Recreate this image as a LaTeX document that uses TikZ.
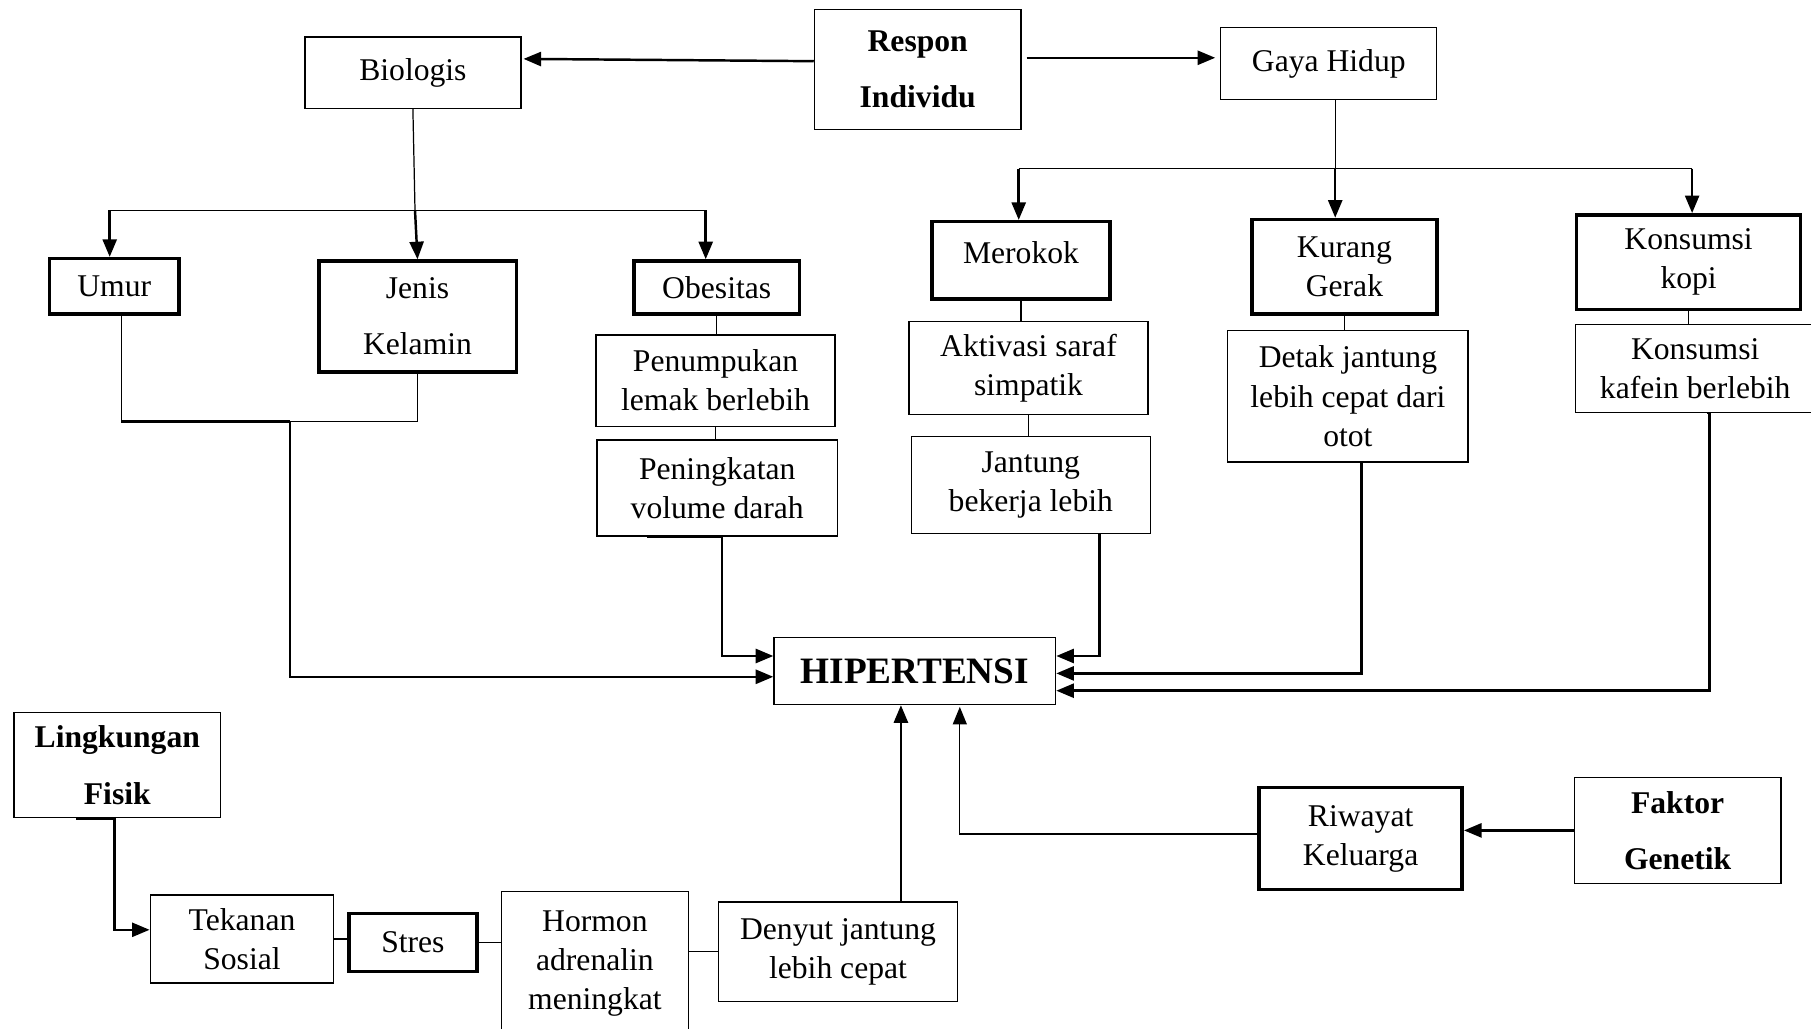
\documentclass[tikz,border=0pt]{standalone}
\usepackage{fontspec}
\setmainfont{Liberation Serif}
\usetikzlibrary{arrows.meta}

\tikzset{
  box/.style={draw, line width=0.35pt, inner sep=1pt, align=center, font=\fontsize{9}{11.1}\selectfont},
  heavybox/.style={box, line width=1pt},
  spaced/.style={font=\fontsize{9}{16}\selectfont},
  tallbox/.style={box, font=\fontsize{9}{16}\selectfont\bfseries},
  wh/.style 2 args={minimum width=#1cm, minimum height=#2cm},
  link/.style={line width=0.35pt},
  feed/.style={line width=0.7pt},
  arrow/.style={feed, -{Triangle[length=5pt,width=4pt]}},
  thinarrow/.style={link, -{Triangle[length=5pt,width=4pt]}},
}

\begin{document}
\begin{tikzpicture}
\useasboundingbox (0,0) rectangle (18.11,-10.29);

% top row
\node[tallbox, wh={2.067}{1.201}] (respon) at (9.177,-0.693) {Respon\\Individu};
\node[box, wh={2.160}{0.716}] (biologis) at (4.129,-0.728) {Biologis};
\node[box, wh={2.160}{0.716}] (gaya) at (13.288,-0.635) {Gaya Hidup};

% biologis side
\node[heavybox, wh={1.293}{0.555}] (umur) at (1.143,-2.864) {Umur};
\node[heavybox, spaced, wh={1.975}{1.109}] (jenis) at (4.175,-3.165) {Jenis\\Kelamin};
\node[heavybox, wh={1.652}{0.532}] (obes) at (7.167,-2.876) {Obesitas};
\node[box, wh={2.391}{0.912}] (penump) at (7.155,-3.806) {Penumpukan\\lemak berlebih};
\node[box, wh={2.403}{0.959}] (penin) at (7.172,-4.880) {Peningkatan\\volume darah};

% gaya hidup side
\node[heavybox, text depth=0.16cm, wh={1.779}{0.774}] (rokok) at (10.210,-2.604) {Merokok};
\node[box, wh={2.391}{0.935}] (saraf) at (10.285,-3.679) {Aktivasi saraf\\simpatik};
\node[box, wh={2.391}{0.970}] (jantung) at (10.308,-4.851) {Jantung\\bekerja lebih};
\node[heavybox, wh={1.848}{0.947}] (gerak) at (13.444,-2.668) {Kurang\\Gerak};
\node[box, wh={2.402}{1.317}] (detak) at (13.479,-3.962) {Detak jantung\\lebih cepat dari\\otot};
\node[heavybox, wh={2.240}{0.947}] (kopi) at (16.886,-2.622) {Konsumsi\\kopi};
\node[box, wh={2.396}{0.877}] (kafein) at (16.952,-3.685) {Konsumsi\\kafein berlebih};

% centre
\node[box, font=\fontsize{10.6}{12}\selectfont\bfseries, wh={2.818}{0.670}] (hip) at (9.148,-6.711) {HIPERTENSI};

% lingkungan side
\node[tallbox, wh={2.067}{1.051}] (fisik) at (1.173,-7.652) {Lingkungan\\Fisik};
\node[box, wh={1.836}{0.878}] (sosial) at (2.420,-9.390) {Tekanan\\Sosial};
\node[heavybox, wh={1.282}{0.578}] (stres) at (4.129,-9.425) {Stres};
\node[box, wh={1.871}{1.433}] (adren) at (5.949,-9.634) {Hormon\\adrenalin\\meningkat};
\node[box, wh={2.391}{0.993}] (denyut) at (8.380,-9.517) {Denyut jantung\\lebih cepat};

% genetik side
\node[heavybox, wh={2.032}{1.017}] (riwayat) at (13.606,-8.385) {Riwayat\\Keluarga};
\node[tallbox, wh={2.067}{1.063}] (genetik) at (16.776,-8.304) {Faktor\\Genetik};

\coordinate (bl) at (1.097,-2.102);
\coordinate (br) at (7.057,-2.102);
\coordinate (bm) at (4.150,-2.102);
\coordinate (gl) at (10.187,-1.686);
\coordinate (gr) at (16.921,-1.686);
\coordinate (gm) at (13.352,-1.686);
\coordinate (uj) at (2.899,-4.216);
\coordinate (ul) at (1.213,-4.216);
\coordinate (up) at (9.009,-9.021);
\coordinate (rw) at (9.598,-7.069);

% respon
\draw[arrow] ([yshift=0.081cm]respon.west) -- ([xshift=0.02cm,yshift=0.139cm]biologis.east);
\draw[arrow] ([xshift=0.05cm,yshift=0.115cm]respon.east) -- ([xshift=-0.05cm,yshift=0.057cm]gaya.west);

% biologis tree
\draw[link] (biologis.south) -- (bm);
\draw[link] (bl) -- (br);
\draw[arrow] (bm) -- (jenis.north);
\draw[arrow] (bl) -- (bl |- umur.north);
\draw[arrow] (br) -- (br |- obes.north);
\draw[link] (ul |- umur.south) -- (ul);
\draw[feed] (ul) -- (uj);
\draw[link] (uj) -| (jenis.south);
\draw[arrow] (uj) |- ([yshift=-0.057cm]hip.west);
\draw[link] (obes.south) -- (obes.south |- penump.north);
\draw[link] (penump.south) -- (penump.south |- penin.north);
\draw[arrow] ([xshift=-0.704cm]penin.south) -- ([xshift=0.047cm]penin.south) |- ([yshift=0.151cm]hip.west);

% gaya hidup tree
\draw[link] (gm |- gaya.south) -- (gm);
\draw[link] (gl) -- (gr);
\draw[arrow] (gl) -- (gl |- rokok.north);
\draw[arrow] (gm) -- (gm |- gerak.north);
\draw[arrow] (gr) -- (gr |- kopi.north);
\draw[link] (rokok.south) -- (rokok.south |- saraf.north);
\draw[link] (saraf.south) -- (saraf.south |- jantung.north);
\draw[link] (gerak.south) -- (gerak.south |- detak.north);
\draw[link] (kopi.south) -- (kopi.south |- kafein.north);
\draw[arrow] ([xshift=0.688cm]jantung.south) |- ([yshift=0.151cm]hip.east);
\draw[arrow] ([xshift=0.138cm]detak.south) |- ([yshift=-0.023cm]hip.east);
\draw[arrow] ([xshift=0.12cm]kafein.south) -- ([xshift=0.142cm]kafein.south) |- ([yshift=-0.196cm]hip.east);

% lingkungan chain
\draw[arrow] ([xshift=-0.411cm]fisik.south) -- ([xshift=-0.03cm]fisik.south) |- ([yshift=0.092cm]sosial.west);
\draw[link] (sosial.east) -- (sosial.east -| stres.west);
\draw[link] (stres.east) -- (stres.east -| adren.west);
\draw[link] (denyut.west) -- (denyut.west -| adren.east);
\draw[arrow] (up) -- (up |- hip.south);

% genetik
\draw[thinarrow] ([yshift=0.046cm]riwayat.west) -| (rw);
\draw[arrow] (genetik.west) -- (genetik.west -| riwayat.east);
\end{tikzpicture}
\end{document}
